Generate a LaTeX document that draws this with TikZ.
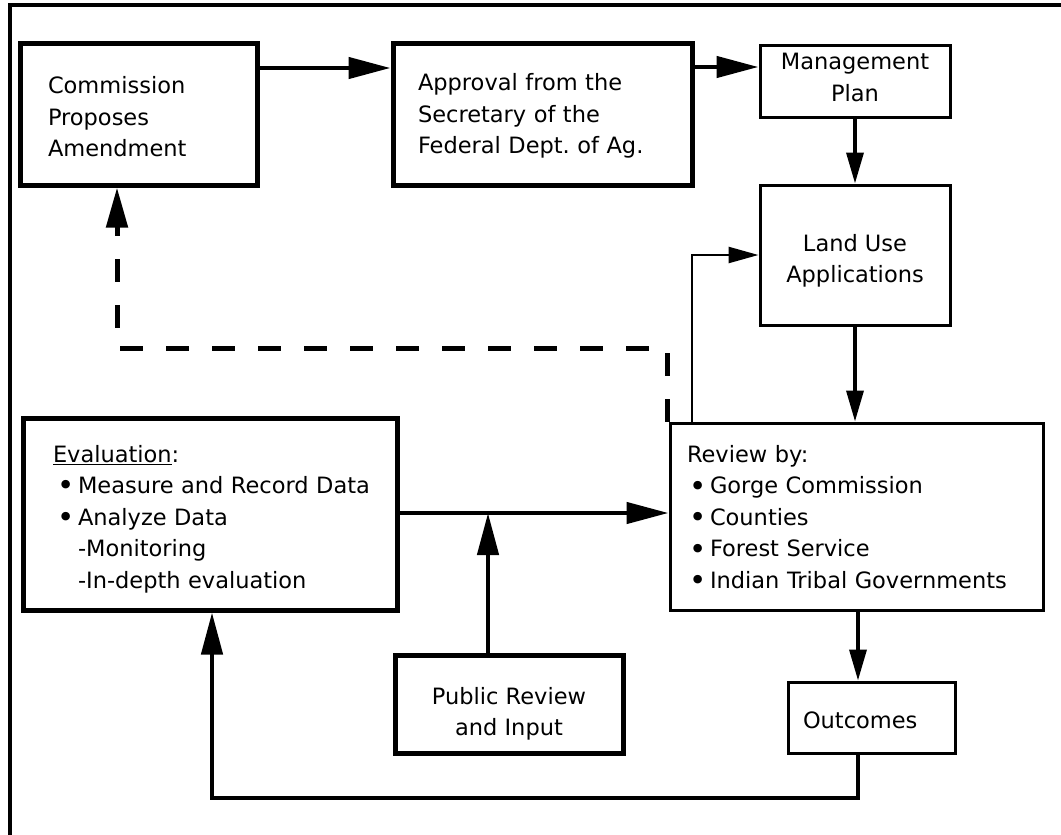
\documentclass[tikz,border=0pt]{standalone}
\usepackage{fontspec}
\setmainfont{DejaVu Sans}
\usetikzlibrary{arrows.meta}
\frenchspacing
\newcommand{\bul}{\makebox[21pt][l]{\raisebox{-2.2pt}{\scalebox{1.3}{•}}}}
\newcommand{\up}[1]{\rule{0pt}{#1}}
\newcommand{\dn}[1]{\rule[-#1]{0pt}{0pt}}
\tikzset{
  thickbox/.style={draw, line width=5pt, rectangle, inner sep=0pt, font=\fontsize{22.5}{31.5}\selectfont},
  thinbox/.style={draw, line width=3pt, rectangle, inner sep=0pt, font=\fontsize{22.5}{31.5}\selectfont},
  bigarrow/.style={line width=4.5pt, -{Triangle[length=42pt,width=21pt]}},
  smallarrow/.style={line width=3.5pt, -{Triangle[length=31pt,width=17pt]}},
  thinarrow/.style={line width=2.5pt, -{Triangle[length=30pt,width=16pt]}},
  dasharrow/.style={line width=5pt, dash pattern=on 23pt off 23pt, -{Triangle[length=40pt,width=21pt]}},
  framestyle/.style={line width=4pt}
}
\begin{document}
\begin{tikzpicture}[x=1pt,y=-1pt]
\useasboundingbox[fill=white] (0,0) rectangle (1061,835);
% outer frame
\coordinate (ftl) at (10,5);
\coordinate (ftr) at (1061,5);
\coordinate (fbl) at (10,835);
\draw[framestyle] (ftr) -- (ftl) -- (fbl);

% boxes
\node[thickbox, minimum height=142pt, text width=181pt, inner xsep=28pt, align=left] (com) at (138.5,114)
  {\up{23pt}Commission\\Proposes\\Amendment};
\node[thickbox, minimum height=142pt, text width=249pt, inner xsep=25pt, align=left] (app) at (542.5,114)
  {\up{21pt}Approval from the\\Secretary of the\\Federal Dept. of Ag.};
\node[thinbox, minimum width=190pt, minimum height=72pt, align=center] (man) at (855,81)
  {Management\\Plan\dn{7pt}};
\node[thinbox, minimum width=190pt, minimum height=140pt, align=center] (land) at (855,255)
  {\up{29pt}Land Use\\Applications};
\node[thinbox, minimum height=187pt, text width=339pt, inner xsep=17pt, align=left] (rev) at (856.5,516.5)
  {\up{20pt}Review by:\\
   \hspace*{2pt}\bul Gorge Commission\\
   \hspace*{2pt}\bul Counties\\
   \hspace*{2pt}\bul Forest Service\\
   \hspace*{2pt}\bul Indian Tribal Governments};
\node[thinbox, minimum height=71pt, text width=137pt, inner xsep=15pt, align=left] (out) at (871.5,717.5)
  {\up{22pt}Outcomes};
\node[thickbox, minimum height=192pt, text width=350pt, inner xsep=12pt, align=left] (eval) at (210,514)
  {\up{27pt}\hspace*{18pt}\underline{Evaluation}:\\
   \hspace*{22pt}\bul Measure and Record Data\\
   \hspace*{22pt}\bul Analyze Data\\
   \hspace*{43pt}-Monitoring\\
   \hspace*{43pt}-In-depth evaluation};
\node[thickbox, minimum width=228pt, minimum height=98pt, align=center] (pub) at (509,704)
  {\up{37pt}Public Review\\and Input};

% connectors
\draw[bigarrow] (com.east |- 0,68) -- (app.west |- 0,68);
\draw[bigarrow] (app.east |- 0,67) -- (man.west |- 0,67);
\draw[smallarrow] (man.south) -- (land.north);
\draw[smallarrow] (land.south) -- (land.south |- rev.north);
\draw[smallarrow] (858,0 |- rev.south) -- (858,0 |- out.north);
\coordinate (obr) at (858,798);
\coordinate (obl) at (212,798);
\draw[bigarrow] (858,0 |- out.south) -- (obr) -- (obl) -- (212,0 |- eval.south);
\draw[bigarrow] (eval.east |- 0,513) -- (rev.west |- 0,513);
\coordinate (junc) at (488,513);
\draw[bigarrow] (488,0 |- pub.north) -- (junc);
\coordinate (rtop) at (692,255);
\draw[thinarrow] (692,0 |- rev.north) -- (rtop) -- (land.west);
\coordinate (dtr) at (667,348);
\coordinate (dtl) at (117,348);
\draw[dasharrow] (667,0 |- rev.north) -- (dtr) -- (dtl) -- (117,0 |- com.south);
\end{tikzpicture}
\end{document}
